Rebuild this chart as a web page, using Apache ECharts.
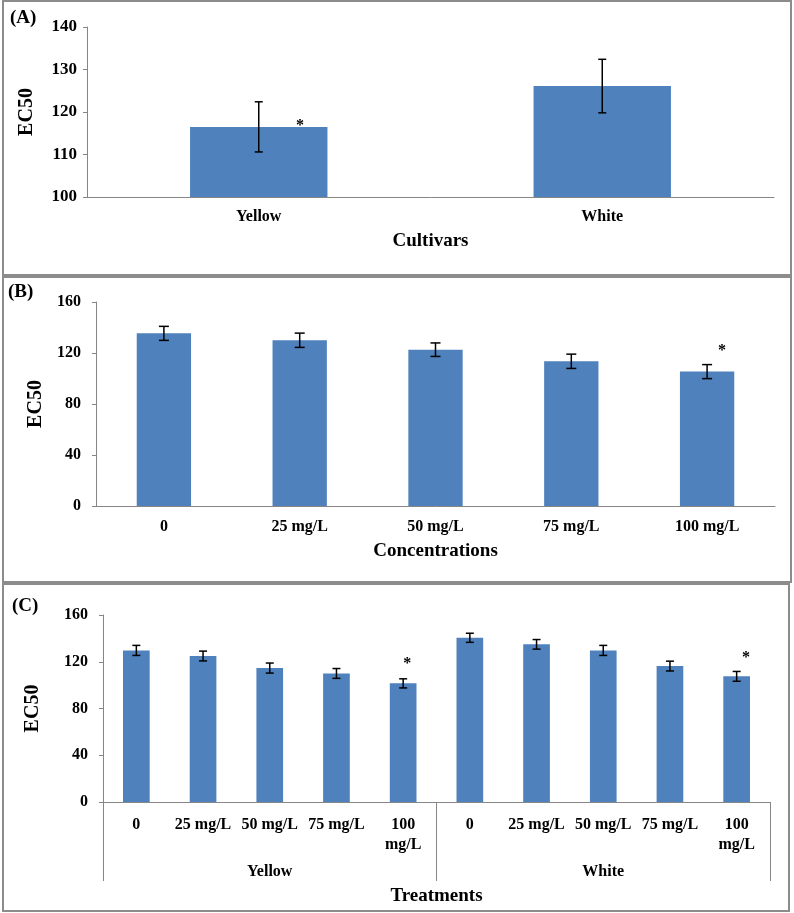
<!DOCTYPE html>
<html>
<head>
<meta charset="utf-8">
<script src="https://cdn.jsdelivr.net/npm/echarts@6/dist/echarts.min.js"></script>
<style>
  html, body { margin: 0; padding: 0; background: #fff; }
  #chart { width: 794px; height: 913px; }
</style>
</head>
<body>
<div id="chart"></div>
<script>
// (A) cultivars
var cultivars = ['Yellow', 'White'];
var cultivarMean = [116.5, 126.1];
var cultivarErr = [5.9, 6.3];
var cultivarStar = [116.7, null];

// (B) concentrations
var concentrations = ['0', '25 mg/L', '50 mg/L', '75 mg/L', '100 mg/L'];
var concMean = [135.4, 130.0, 122.6, 113.5, 105.4];
var concErr = [5.5, 5.6, 5.3, 5.6, 5.5];
var concStar = [null, null, null, null, 121.6];

// (C) treatments = cultivar x concentration
var yellowMean = [129.7, 124.9, 114.6, 110.0, 101.5];
var yellowErr = [4.3, 4.2, 4.3, 4.2, 3.9];
var whiteMean = [140.5, 134.9, 129.7, 116.3, 107.5];
var whiteErr = [3.9, 4.1, 4.3, 4.2, 4.2];
var yellowStar = [null, null, null, null, 118.0];
var whiteStar = [null, null, null, null, 123.2];

var treatments = concentrations.concat(concentrations);
var treatMean = yellowMean.concat(whiteMean);
var treatErr = yellowErr.concat(whiteErr);
var treatStar = yellowStar.concat(whiteStar);

var FONT = 'Liberation Serif';
var BLUE = '#4F81BD';
var AXIS = '#868686';

function errData(mean, err) {
    return mean.map(function (m, i) { return [i, m - err[i], m + err[i]]; });
}
function starData(stars) {
    var out = [];
    stars.forEach(function (v, i) { if (v != null) out.push([i, v]); });
    return out;
}

function errorBars(cap) {
    return function (params, api) {
        var i = api.value(0);
        var hi = api.coord([i, api.value(2)]);
        var lo = api.coord([i, api.value(1)]);
        var st = { stroke: '#000', lineWidth: 1.5 };
        return {
            type: 'group',
            children: [
                { type: 'line', shape: { x1: hi[0], y1: hi[1], x2: lo[0], y2: lo[1] }, style: st },
                { type: 'line', shape: { x1: hi[0] - cap, y1: hi[1], x2: hi[0] + cap, y2: hi[1] }, style: st },
                { type: 'line', shape: { x1: lo[0] - cap, y1: lo[1], x2: lo[0] + cap, y2: lo[1] }, style: st }
            ]
        };
    };
}

// asterisk, shifted right by a fraction of the category band
function stars(shift) {
    return function (params, api) {
        var p = api.coord([api.value(0), api.value(1)]);
        var band = api.size([1, 0])[0];
        return {
            type: 'text',
            x: p[0] + band * shift(api.value(0)),
            y: p[1],
            style: {
                text: '*', fill: '#000', fontFamily: FONT, fontWeight: 'bold', fontSize: 16,
                align: 'center', verticalAlign: 'middle'
            }
        };
    };
}

var lbl = { color: '#000', fontFamily: FONT, fontWeight: 'bold', fontSize: 16 };
var nameStyle = { color: '#000', fontFamily: FONT, fontWeight: 'bold', fontSize: 19 };

function yAxis(grid, min, max, interval, margin, gap, size) {
    return {
        gridIndex: grid, type: 'value', min: min, max: max, interval: interval,
        name: 'EC50', nameLocation: 'middle', nameRotate: 90, nameGap: gap,
        nameTextStyle: { color: '#000', fontFamily: FONT, fontWeight: 'bold', fontSize: 20 },
        axisLine: { show: true, lineStyle: { color: AXIS, width: 1 } },
        axisTick: { show: true, length: 4, lineStyle: { color: AXIS } },
        axisLabel: Object.assign({}, lbl, { margin: margin, fontSize: size }),
        splitLine: { show: false }
    };
}

var chart = echarts.init(document.getElementById('chart'));

var option = {
    backgroundColor: '#fff',
    animation: false,
    grid: [
        { left: 87, right: 20, top: 27, height: 170 },
        { left: 96, right: 19, top: 302, height: 204 },
        { left: 103, right: 24, top: 615, height: 187 }
    ],
    xAxis: [
        {
            gridIndex: 0, type: 'category', data: cultivars,
            name: 'Cultivars', nameLocation: 'middle', nameGap: 35, nameTextStyle: nameStyle,
            axisLine: { lineStyle: { color: AXIS } }, axisTick: { show: false },
            axisLabel: Object.assign({ margin: 12 }, lbl)
        },
        {
            gridIndex: 1, type: 'category', data: concentrations,
            name: 'Concentrations', nameLocation: 'middle', nameGap: 36, nameTextStyle: nameStyle,
            axisLine: { lineStyle: { color: AXIS } }, axisTick: { show: false },
            axisLabel: Object.assign({ margin: 13 }, lbl)
        },
        {
            gridIndex: 2, type: 'category', data: treatments,
            name: 'Treatments', nameLocation: 'middle', nameGap: 85, nameTextStyle: nameStyle,
            axisLine: { lineStyle: { color: AXIS } }, axisTick: { show: false },
            axisLabel: Object.assign({
                margin: 13, interval: 0, lineHeight: 20,
                formatter: function (v) { return v.replace('100 mg/L', '100\nmg/L'); }
            }, lbl)
        },
        {
            gridIndex: 2, type: 'category', data: cultivars, position: 'bottom',
            axisLine: { show: false },
            axisTick: { show: true, length: 79, lineStyle: { color: AXIS } },
            axisLabel: Object.assign({ margin: 62 }, lbl)
        }
    ],
    yAxis: [
        yAxis(0, 100, 140, 10, 10, 50, 17),
        yAxis(1, 0, 160, 40, 15, 46, 16),
        yAxis(2, 0, 160, 40, 15, 60, 16)
    ],
    series: [
        { type: 'bar', xAxisIndex: 0, yAxisIndex: 0, data: cultivarMean, barWidth: '40%', itemStyle: { color: BLUE } },
        { type: 'custom', xAxisIndex: 0, yAxisIndex: 0, data: errData(cultivarMean, cultivarErr),
          encode: { x: 0, y: [1, 2] }, renderItem: errorBars(4), z: 5 },
        { type: 'custom', xAxisIndex: 0, yAxisIndex: 0, data: starData(cultivarStar),
          encode: { x: 0, y: 1 }, renderItem: stars(function () { return 0.12; }), z: 5 },

        { type: 'bar', xAxisIndex: 1, yAxisIndex: 1, data: concMean, barWidth: '40%', itemStyle: { color: BLUE } },
        { type: 'custom', xAxisIndex: 1, yAxisIndex: 1, data: errData(concMean, concErr),
          encode: { x: 0, y: [1, 2] }, renderItem: errorBars(5), z: 5 },
        { type: 'custom', xAxisIndex: 1, yAxisIndex: 1, data: starData(concStar),
          encode: { x: 0, y: 1 }, renderItem: stars(function () { return 0.11; }), z: 5 },

        { type: 'bar', xAxisIndex: 2, yAxisIndex: 2, data: treatMean, barWidth: '40%', itemStyle: { color: BLUE } },
        { type: 'custom', xAxisIndex: 2, yAxisIndex: 2, data: errData(treatMean, treatErr),
          encode: { x: 0, y: [1, 2] }, renderItem: errorBars(4), z: 5 },
        { type: 'custom', xAxisIndex: 2, yAxisIndex: 2, data: starData(treatStar),
          encode: { x: 0, y: 1 }, renderItem: stars(function (i) { return i < 5 ? 0.06 : 0.14; }), z: 5 }
    ],
    graphic: [
        { type: 'rect', shape: { x: 3, y: 1, width: 788, height: 274 }, style: { fill: 'none', stroke: '#8c8c8c', lineWidth: 2 } },
        { type: 'rect', shape: { x: 3, y: 277, width: 788, height: 305 }, style: { fill: 'none', stroke: '#8c8c8c', lineWidth: 2 } },
        { type: 'rect', shape: { x: 3, y: 584, width: 786, height: 327 }, style: { fill: 'none', stroke: '#8c8c8c', lineWidth: 2 } },
        { type: 'text', x: 10, y: 9, style: { text: '(A)', fill: '#000', fontFamily: FONT, fontWeight: 'bold', fontSize: 19 } },
        { type: 'text', x: 8, y: 283, style: { text: '(B)', fill: '#000', fontFamily: FONT, fontWeight: 'bold', fontSize: 19 } },
        { type: 'text', x: 12, y: 597, style: { text: '(C)', fill: '#000', fontFamily: FONT, fontWeight: 'bold', fontSize: 19 } }
    ]
};

chart.setOption(option);
</script>
</body>
</html>
